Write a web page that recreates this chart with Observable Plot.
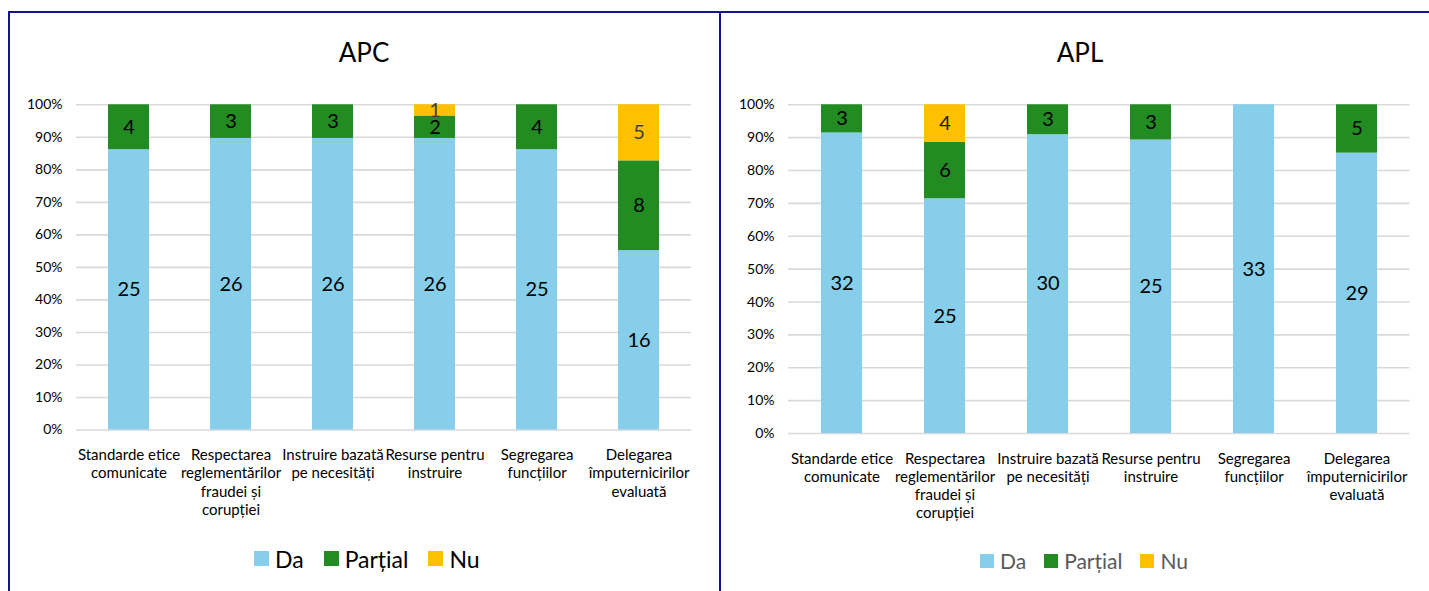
<!DOCTYPE html>
<html>
<head>
<meta charset="utf-8">
<script src="https://cdn.jsdelivr.net/npm/d3@7"></script>
<script src="https://cdn.jsdelivr.net/npm/@observablehq/plot@0.6"></script>
<style>
  html, body { margin: 0; padding: 0; background: #fff; }
  #root { position: relative; width: 1429px; height: 591px; overflow: hidden; font-family: Lato, "Open Sans", sans-serif; }
  .abs { position: absolute; }
  .line { position: absolute; background: #14148c; }
  .title { position: absolute; font-size: 26px; line-height: 26px; transform: translateX(-50%); color: #000; white-space: nowrap; }
  .legend { position: absolute; display: flex; align-items: center; white-space: nowrap; }
  .legend .sw { display: inline-block; }
</style>
</head>
<body>
<div id="root"></div>
<script>
// ---- data ----
const categories = [
  "Standarde etice comunicate",
  "Respectarea reglementărilor fraudei și corupției",
  "Instruire bazată pe necesități",
  "Resurse pentru instruire",
  "Segregarea funcțiilor",
  "Delegarea împuternicirilor evaluată"
];
const tickLabels = [
  "Standarde etice\ncomunicate",
  "Respectarea\nreglementărilor\nfraudei și\ncorupției",
  "Instruire bazată\npe necesități",
  "Resurse pentru\ninstruire",
  "Segregarea\nfuncțiilor",
  "Delegarea\nîmputernicirilor\nevaluată"
];
const series = ["Da", "Parțial", "Nu"];
const seriesColors = ["#87CEEB", "#228B22", "#FFC000"];

const apcTitle = "APC";
const apcDa = [25, 26, 26, 26, 25, 16];
const apcPartial = [4, 3, 3, 2, 4, 8];
const apcNu = [0, 0, 0, 1, 0, 5];

const aplTitle = "APL";
const aplDa = [32, 25, 30, 25, 33, 29];
const aplPartial = [3, 6, 3, 3, 0, 5];
const aplNu = [0, 4, 0, 0, 0, 0];

const yTicks = [0, 0.1, 0.2, 0.3, 0.4, 0.5, 0.6, 0.7, 0.8, 0.9, 1];

// ---- build ----
function rowsOf(da, partial, nu) {
  const rows = [];
  categories.forEach((c, i) => {
    rows.push({cat: c, series: "Da", value: da[i]});
    rows.push({cat: c, series: "Parțial", value: partial[i]});
    rows.push({cat: c, series: "Nu", value: nu[i]});
  });
  return rows;
}

function chart(rows, o) {
  const tf = d => tickLabels[categories.indexOf(d)];
  const stackOpts = {x: "cat", y: "value", z: "series", order: series, offset: "normalize"};
  return Plot.plot({
    width: o.width, height: 591,
    marginLeft: o.ml, marginRight: o.mr, marginTop: o.mt, marginBottom: o.mb,
    style: {fontFamily: "Lato, 'Open Sans', sans-serif", color: "#000", background: "transparent", overflow: "visible"},
    x: {domain: categories, paddingInner: 0.6, paddingOuter: 0.3, label: null},
    y: {domain: [0, 1], label: null},
    color: {domain: series, range: seriesColors},
    marks: [
      Plot.gridY(yTicks, {stroke: "#d9d9d9", strokeOpacity: 1, strokeWidth: 1.6}),
      Plot.barY(rows, {x: "cat", y: "value", fill: "series", order: series, offset: "normalize"}),
      Plot.axisY(yTicks, {tickFormat: d3.format(".0%"), tickSize: 0, tickPadding: 14, fontSize: 14, label: null}),
      Plot.axisX({tickFormat: tf, tickSize: 0, tickPadding: 17, fontSize: 15, lineHeight: 1.22, label: null}),
      Plot.text(rows, Plot.stackY({...stackOpts, text: d => (d.series !== "Nu" && d.value > 0) ? String(d.value) : "", fill: "#000", fontSize: 20})),
      Plot.text(rows, Plot.stackY({...stackOpts, text: d => (d.series === "Nu" && d.value > 0) ? String(d.value) : "", fill: o.nuColor, fontSize: 20}))
    ]
  });
}

const root = document.getElementById("root");

function place(el, left, top) {
  el.style.position = "absolute";
  el.style.left = left + "px";
  el.style.top = top + "px";
  root.appendChild(el);
}

const left = chart(rowsOf(apcDa, apcPartial, apcNu), {width: 720, ml: 76, mr: 29, mt: 104.3, mb: 591 - 429.5, nuColor: "#404040"});
place(left, 0, 0);
const right = chart(rowsOf(aplDa, aplPartial, aplNu), {width: 709, ml: 68, mr: 19.5, mt: 104.3, mb: 591 - 433, nuColor: "#1a1a1a"});
place(right, 720, 0);

function addTitle(text, cx) {
  const d = document.createElement("div");
  d.className = "title";
  d.textContent = text;
  d.style.left = cx + "px";
  d.style.top = "39px";
  root.appendChild(d);
}
addTitle(apcTitle, 364);
addTitle(aplTitle, 1080);

function addLegend(leftX, cy, sw, fs, color, gapText, gapItem) {
  const d = document.createElement("div");
  d.className = "legend";
  d.style.left = leftX + "px";
  d.style.top = (cy - fs * 0.6) + "px";
  d.style.height = (fs * 1.2) + "px";
  d.style.fontSize = fs + "px";
  d.style.color = color;
  series.forEach((s, i) => {
    const box = document.createElement("span");
    box.className = "sw";
    box.style.width = sw + "px";
    box.style.height = sw + "px";
    box.style.background = seriesColors[i];
    box.style.marginRight = gapText + "px";
    const t = document.createElement("span");
    t.textContent = s;
    t.style.marginRight = gapItem + "px";
    d.appendChild(box);
    d.appendChild(t);
  });
  root.appendChild(d);
}
addLegend(254, 559, 15, 23, "#000", 6, 20);
addLegend(980, 561, 14, 21, "#595959", 6, 18);

// frame lines
function addLine(l, t, w, h) {
  const d = document.createElement("div");
  d.className = "line";
  d.style.left = l + "px"; d.style.top = t + "px";
  d.style.width = w + "px"; d.style.height = h + "px";
  root.appendChild(d);
}
addLine(7.5, 11, 1429 - 7.5, 2);
addLine(7.5, 11, 2, 591);
addLine(719, 11, 2, 591);
</script>
</body>
</html>
